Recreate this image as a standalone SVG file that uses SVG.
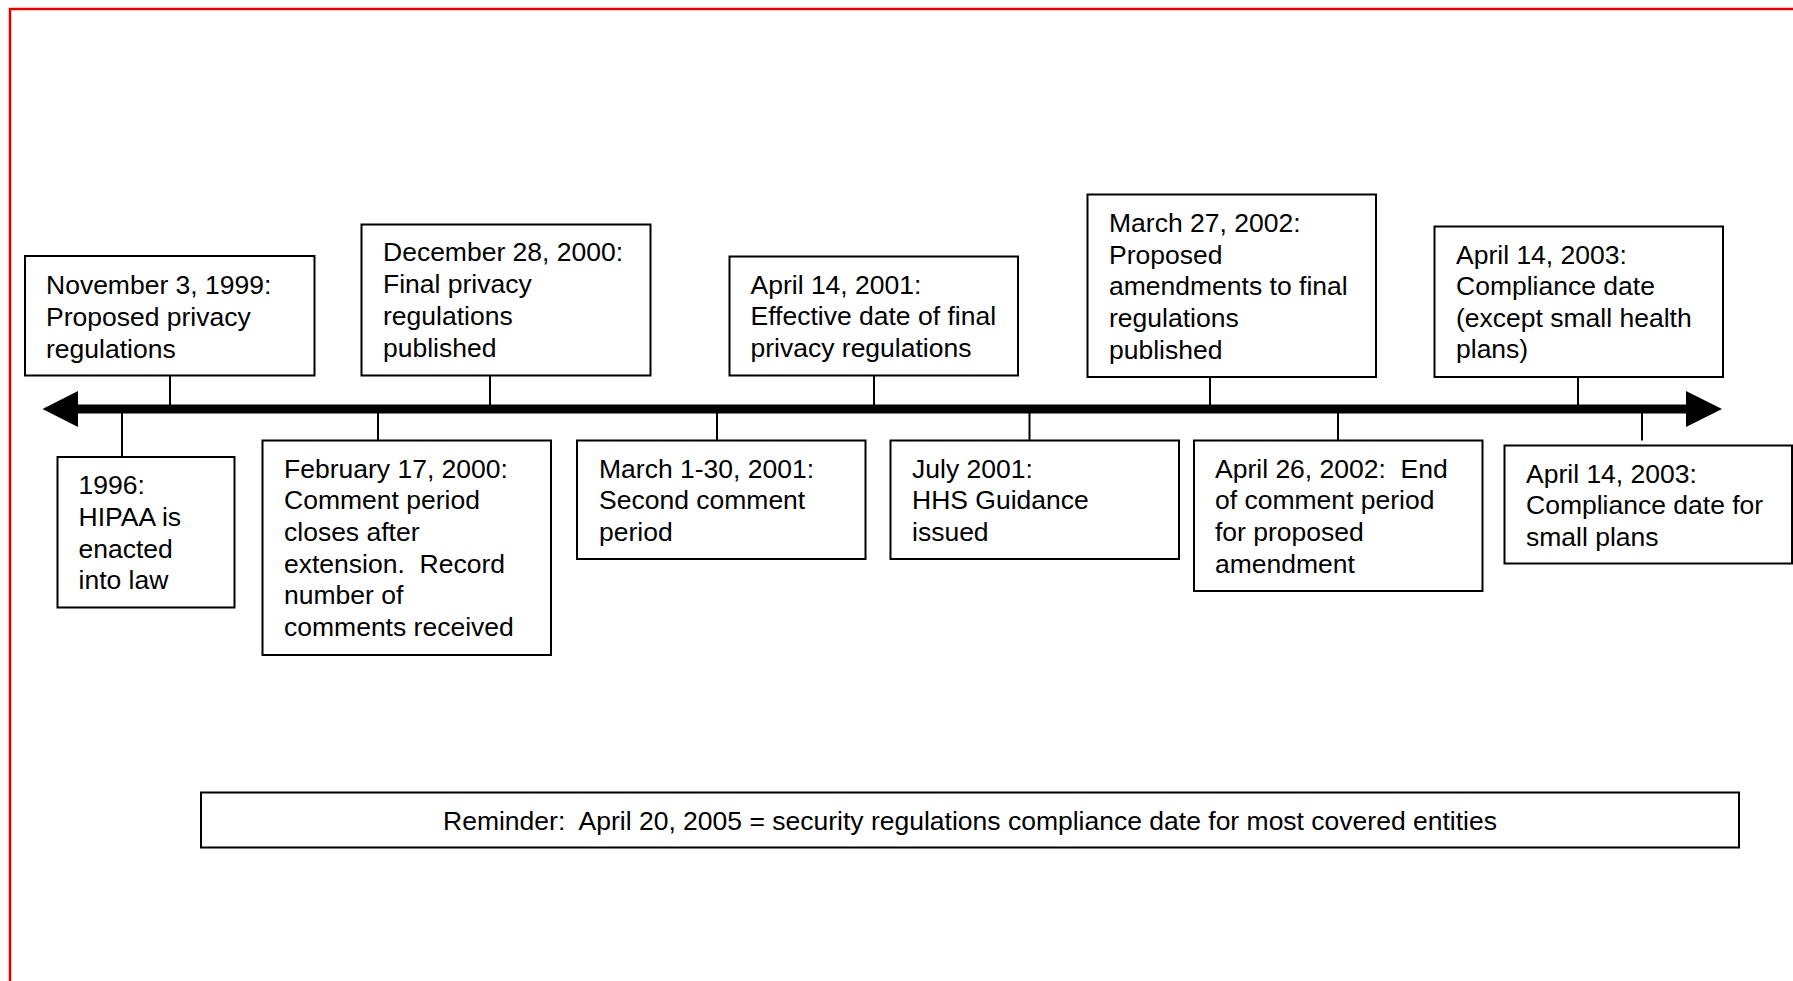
<svg xmlns="http://www.w3.org/2000/svg" width="1793" height="981" viewBox="0 0 1793 981">
<style>
.box{fill:#fff;stroke:#000;stroke-width:2}
.t{font-family:"Liberation Sans",Arial,sans-serif;font-size:26.5px;fill:#000}
.tick{stroke:#000;stroke-width:2;fill:none}
</style>
<rect x="0" y="0" width="1793" height="981" fill="#fff"/>
<path d="M10,981 V9 H1793" fill="none" stroke="#e00000" stroke-width="2.5"/>
<g id="connectors">
<line x1="77" y1="409" x2="1687" y2="409" stroke="#000" stroke-width="9"/>
<polygon points="42.5,409 78,391 78,427" fill="#000"/>
<polygon points="1722,409 1686,391 1686,427" fill="#000"/>
<line class="tick" x1="170" y1="375.5" x2="170" y2="405"/>
<line class="tick" x1="490" y1="375.5" x2="490" y2="405"/>
<line class="tick" x1="874" y1="375.5" x2="874" y2="405"/>
<line class="tick" x1="1210" y1="377" x2="1210" y2="405"/>
<line class="tick" x1="1578" y1="377" x2="1578" y2="405"/>
<line class="tick" x1="122" y1="413" x2="122" y2="457"/>
<line class="tick" x1="378" y1="413" x2="378" y2="440.5"/>
<line class="tick" x1="717" y1="413" x2="717" y2="440.5"/>
<line class="tick" x1="1029.5" y1="413" x2="1029.5" y2="440.5"/>
<line class="tick" x1="1338" y1="413" x2="1338" y2="440.5"/>
<line class="tick" x1="1642" y1="413" x2="1642" y2="440.5"/>
</g>
<g id="n-nov1999">
<rect class="box" x="25" y="256" width="289.5" height="119.5"/>
<text class="t"><tspan x="46" y="294">November 3, 1999:</tspan><tspan x="46" y="326">Proposed privacy</tspan><tspan x="46" y="358">regulations</tspan></text>
</g>
<g id="n-dec2000">
<rect class="box" x="361.5" y="224.5" width="289" height="151"/>
<text class="t"><tspan x="383" y="261">December 28, 2000:</tspan><tspan x="383" y="293">Final privacy</tspan><tspan x="383" y="325">regulations</tspan><tspan x="383" y="357">published</tspan></text>
</g>
<g id="n-apr2001">
<rect class="box" x="729.5" y="256.5" width="288.5" height="119"/>
<text class="t"><tspan x="750.5" y="293.5">April 14, 2001:</tspan><tspan x="750.5" y="325">Effective date of final</tspan><tspan x="750.5" y="357">privacy regulations</tspan></text>
</g>
<g id="n-mar2002">
<rect class="box" x="1087.5" y="194.5" width="288.5" height="182.5"/>
<text class="t"><tspan x="1109" y="231.5">March 27, 2002:</tspan><tspan x="1109" y="263.5">Proposed</tspan><tspan x="1109" y="295">amendments to final</tspan><tspan x="1109" y="327">regulations</tspan><tspan x="1109" y="358.5">published</tspan></text>
</g>
<g id="n-apr2003a">
<rect class="box" x="1434.5" y="226.5" width="288.5" height="150.5"/>
<text class="t"><tspan x="1456" y="263.5">April 14, 2003:</tspan><tspan x="1456" y="295">Compliance date</tspan><tspan x="1456" y="326.5">(except small health</tspan><tspan x="1456" y="358">plans)</tspan></text>
</g>
<g id="n-1996">
<rect class="box" x="57.5" y="457" width="177" height="150.5"/>
<text class="t"><tspan x="78.5" y="494">1996:</tspan><tspan x="78.5" y="526">HIPAA is</tspan><tspan x="78.5" y="557.5">enacted</tspan><tspan x="78.5" y="589">into law</tspan></text>
</g>
<g id="n-feb2000">
<rect class="box" x="262.5" y="440.5" width="288.5" height="214.5"/>
<text class="t" xml:space="preserve"><tspan x="284" y="477.5">February 17, 2000:</tspan><tspan x="284" y="509">Comment period</tspan><tspan x="284" y="541">closes after</tspan><tspan x="284" y="572.5">extension.  Record</tspan><tspan x="284" y="604">number of</tspan><tspan x="284" y="636">comments received</tspan></text>
</g>
<g id="n-mar2001">
<rect class="box" x="577" y="440.5" width="288.5" height="118.5"/>
<text class="t"><tspan x="599" y="477.5">March 1-30, 2001:</tspan><tspan x="599" y="509">Second comment</tspan><tspan x="599" y="541">period</tspan></text>
</g>
<g id="n-jul2001">
<rect class="box" x="890.5" y="440.5" width="288.5" height="118.5"/>
<text class="t"><tspan x="912" y="477.5">July 2001:</tspan><tspan x="912" y="509">HHS Guidance</tspan><tspan x="912" y="541">issued</tspan></text>
</g>
<g id="n-apr2002">
<rect class="box" x="1194" y="440.5" width="288.5" height="150.5"/>
<text class="t" xml:space="preserve"><tspan x="1215" y="477.5">April 26, 2002:  End</tspan><tspan x="1215" y="509">of comment period</tspan><tspan x="1215" y="541">for proposed</tspan><tspan x="1215" y="572.5">amendment</tspan></text>
</g>
<g id="n-apr2003b">
<rect class="box" x="1504.5" y="445.5" width="287.5" height="118"/>
<text class="t"><tspan x="1526" y="482.5">April 14, 2003:</tspan><tspan x="1526" y="514">Compliance date for</tspan><tspan x="1526" y="545.5">small plans</tspan></text>
</g>
<g id="n-reminder">
<rect class="box" x="201" y="792.5" width="1538" height="55"/>
<text class="t" x="970" y="830" text-anchor="middle" xml:space="preserve">Reminder:  April 20, 2005 = security regulations compliance date for most covered entities</text>
</g>
</svg>
